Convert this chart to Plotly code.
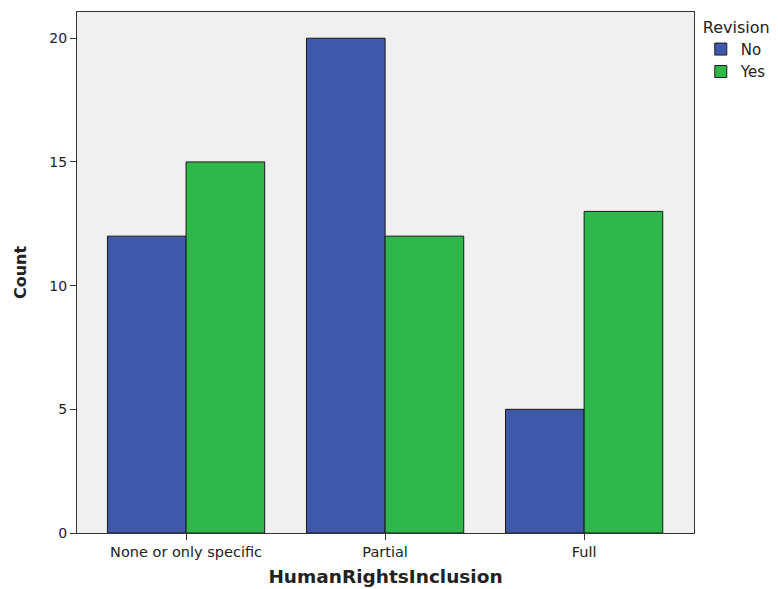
import plotly.graph_objects as go

categories = ["None or only specific", "Partial", "Full"]
no_values = [12, 20, 5]
yes_values = [15, 12, 13]
y_ticks = [0, 5, 10, 15, 20]

fig = go.Figure()
fig.add_trace(go.Bar(name="No", x=categories, y=no_values,
                     marker=dict(color="#3f58a9", line=dict(color="#1a1a1a", width=1))))
fig.add_trace(go.Bar(name="Yes", x=categories, y=yes_values,
                     marker=dict(color="#2eb84b", line=dict(color="#1a1a1a", width=1))))

fig.update_layout(
    width=778, height=589,
    barmode="group", bargap=0.21, bargroupgap=0,
    paper_bgcolor="white", plot_bgcolor="#f0f0f0",
    margin=dict(l=69, r=92, t=4, b=64),
    font=dict(family="DejaVu Sans, Verdana, sans-serif", size=13, color="#222"),
    legend=dict(title=dict(text="Revision", font=dict(size=16)),
                x=1.011, y=1.0, xanchor="left", yanchor="top",
                font=dict(size=15), itemwidth=30, tracegroupgap=0,
                bgcolor="rgba(0,0,0,0)"),
    showlegend=True,
)
fig.update_xaxes(
    range=[-0.548, 2.552], showline=True, linecolor="#333", linewidth=1, mirror=True,
    ticks="outside", ticklen=6, tickcolor="#333", showgrid=False,
    title=dict(text="<b>HumanRightsInclusion</b>", font=dict(size=18.5), standoff=10),
    tickfont=dict(size=14.5),
)
fig.update_yaxes(
    range=[0, 21.06], tickvals=y_ticks, showline=True, linecolor="#333", linewidth=1, mirror=True,
    ticks="outside", ticklen=6, tickcolor="#333", showgrid=False, zeroline=False,
    title=dict(text="<b>Count</b>", font=dict(size=16), standoff=18),
    tickfont=dict(size=14),
)

fig.write_html("out.html")
